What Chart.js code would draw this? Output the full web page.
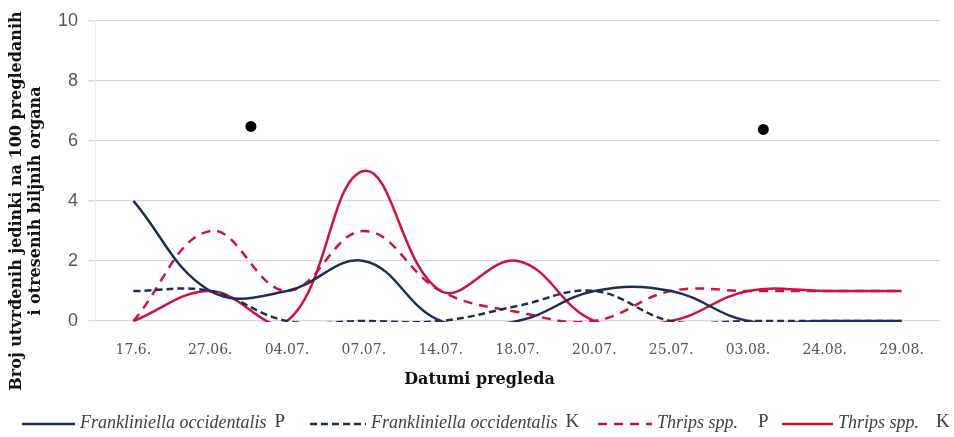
<!DOCTYPE html>
<html>
<head>
    <title>Tripsi - broj jedinki</title>
    <script src="https://cdn.jsdelivr.net/npm/chart.js"></script>
    <style>
        html, body {
            margin: 0;
            padding: 0;
            background: #fff;
        }
        .chart-container {
            width: 954px;
            height: 437px;
        }
    </style>
</head>
<body>
    <div class="chart-container">
        <canvas id="thripsChart"></canvas>
    </div>

    <script>
        // Dates of inspection
        const dates = ['17.6.', '27.06.', '04.07.', '07.07.', '14.07.', '18.07.', '20.07.', '25.07.', '03.08.', '24.08.', '29.08.'];

        // Values
        const frankliniellaP = [4, 1, 1, 2, 0, 0, 1, 1, 0, 0, 0];
        const frankliniellaK = [1, 1, 0, 0, 0, 0.5, 1, 0, 0, 0, 0];
        const thripsP = [0, 3, 1, 3, 1, 0.3, 0, 1, 1, 1, 1];
        const thripsK = [0, 1, 0, 5, 1, 2, 0, 0, 1, 1, 1];

        // Black dot markers (position in category units, value)
        const markerX = [1.53, 8.2];
        const markerY = [6.48, 6.38];

        const yTicks = [0, 2, 4, 6, 8, 10];

        // legend: species name (italic) + sampling letter (upright)
        const legendNames = ['Frankliniella occidentalis', 'Frankliniella occidentalis', 'Thrips spp.', 'Thrips spp.'];
        const legendLetters = ['P', 'K', 'P', 'K'];

        const navy = '#1f2d5c';
        const crimson = '#d0103f';
        const serif = '"Liberation Serif", "DejaVu Serif", serif';
        const serifWide = '"DejaVu Serif", "Liberation Serif", serif';

        // Axis titles drawn by hand so they sit where the original has them
        const axisTitles = {
            id: 'axisTitles',
            afterDraw(chart) {
                const ctx = chart.ctx;
                const area = chart.chartArea;
                ctx.save();
                ctx.fillStyle = '#111';
                ctx.font = 'bold 16px ' + serifWide;
                ctx.textAlign = 'center';
                ctx.textBaseline = 'middle';
                ctx.fillText('Datumi pregleda', area.left + (area.right - area.left) * 0.455, 380);

                ctx.translate(27, 201);
                ctx.rotate(-Math.PI / 2);
                ctx.font = 'bold 16px ' + serifWide;
                ctx.fillText('Broj utvrđenih jedinki na 100 pregledanih', 0, -10);
                ctx.fillText('i otresenih biljnih organa', 0, 9);
                ctx.restore();
            }
        };

        // Legend row with dashed samples, drawn on the canvas
        const lineLegend = {
            id: 'lineLegend',
            afterDraw(chart) {
                const ctx = chart.ctx;
                const starts = [22, 310, 598, 782];
                const lens = [53, 56, 54, 51];
                const letterGap = [8, 8, 20, 17];
                const y = 423;
                ctx.save();
                ctx.textBaseline = 'middle';
                ctx.textAlign = 'left';
                legendNames.forEach((name, i) => {
                    const ds = chart.data.datasets[i];
                    ctx.strokeStyle = ds.borderColor;
                    ctx.lineWidth = ds.borderWidth;
                    ctx.setLineDash(ds.borderDash || []);
                    ctx.beginPath();
                    ctx.moveTo(starts[i], y + 1);
                    ctx.lineTo(starts[i] + lens[i], y + 1);
                    ctx.stroke();
                    ctx.setLineDash([]);

                    let x = starts[i] + lens[i] + 5;
                    ctx.fillStyle = '#404040';
                    ctx.font = 'italic 18px ' + serif;
                    ctx.fillText(name, x, y);
                    x += ctx.measureText(name).width + letterGap[i];
                    ctx.font = '19px ' + serif;
                    ctx.fillText(legendLetters[i], x, y - 1);
                });
                ctx.restore();
            }
        };

        const lineBase = {
            fill: false,
            pointRadius: 0,
            pointHoverRadius: 0,
            borderWidth: 2.5,
            tension: 0.4,
            clip: { left: 5, top: 5, right: 5, bottom: 1 }
        };

        const ctx = document.getElementById('thripsChart').getContext('2d');
        const chart = new Chart(ctx, {
            type: 'line',
            data: {
                labels: dates,
                datasets: [
                    Object.assign({}, lineBase, {
                        label: 'Frankliniella occidentalis P',
                        data: frankliniellaP,
                        borderColor: navy,
                        backgroundColor: navy
                    }),
                    Object.assign({}, lineBase, {
                        label: 'Frankliniella occidentalis K',
                        data: frankliniellaK,
                        borderColor: navy,
                        backgroundColor: navy,
                        borderDash: [7, 4]
                    }),
                    Object.assign({}, lineBase, {
                        label: 'Thrips spp. P',
                        data: thripsP,
                        borderColor: crimson,
                        backgroundColor: crimson,
                        borderDash: [9, 7]
                    }),
                    Object.assign({}, lineBase, {
                        label: 'Thrips spp. K',
                        data: thripsK,
                        borderColor: crimson,
                        backgroundColor: crimson
                    }),
                    {
                        label: 'markers',
                        data: markerX.map((x, i) => ({ x: x, y: markerY[i] })),
                        xAxisID: 'xm',
                        showLine: false,
                        pointStyle: 'circle',
                        pointRadius: 5.5,
                        pointBackgroundColor: '#000',
                        pointBorderColor: '#000',
                        pointBorderWidth: 0
                    }
                ]
            },
            options: {
                responsive: true,
                maintainAspectRatio: false,
                animation: false,
                layout: {
                    padding: { top: 20, right: 14, bottom: 36, left: 0 }
                },
                elements: {
                    line: { capBezierPoints: false }
                },
                plugins: {
                    legend: { display: false },
                    tooltip: { enabled: false }
                },
                scales: {
                    x: {
                        type: 'category',
                        offset: true,
                        grid: { display: false, drawTicks: false },
                        border: { display: false },
                        ticks: {
                            color: '#555',
                            padding: 21,
                            maxRotation: 0,
                            autoSkip: false,
                            font: { family: serifWide, size: 14 }
                        },
                        afterFit(scale) { scale.height = 80; }
                    },
                    xm: {
                        type: 'linear',
                        display: false,
                        min: -0.5,
                        max: dates.length - 0.5
                    },
                    y: {
                        min: 0,
                        max: 10,
                        afterBuildTicks(scale) {
                            scale.ticks = yTicks.map(v => ({ value: v }));
                        },
                        grid: {
                            color: '#d9d9d9',
                            lineWidth: 1.3,
                            tickLength: 7
                        },
                        border: { display: true, color: '#ececec' },
                        ticks: {
                            color: '#555',
                            padding: 10,
                            font: { family: '"Liberation Sans", Arial, sans-serif', size: 18 }
                        },
                        afterFit(scale) { scale.width = 95; }
                    }
                }
            },
            plugins: [axisTitles, lineLegend]
        });
    </script>
</body>
</html>
